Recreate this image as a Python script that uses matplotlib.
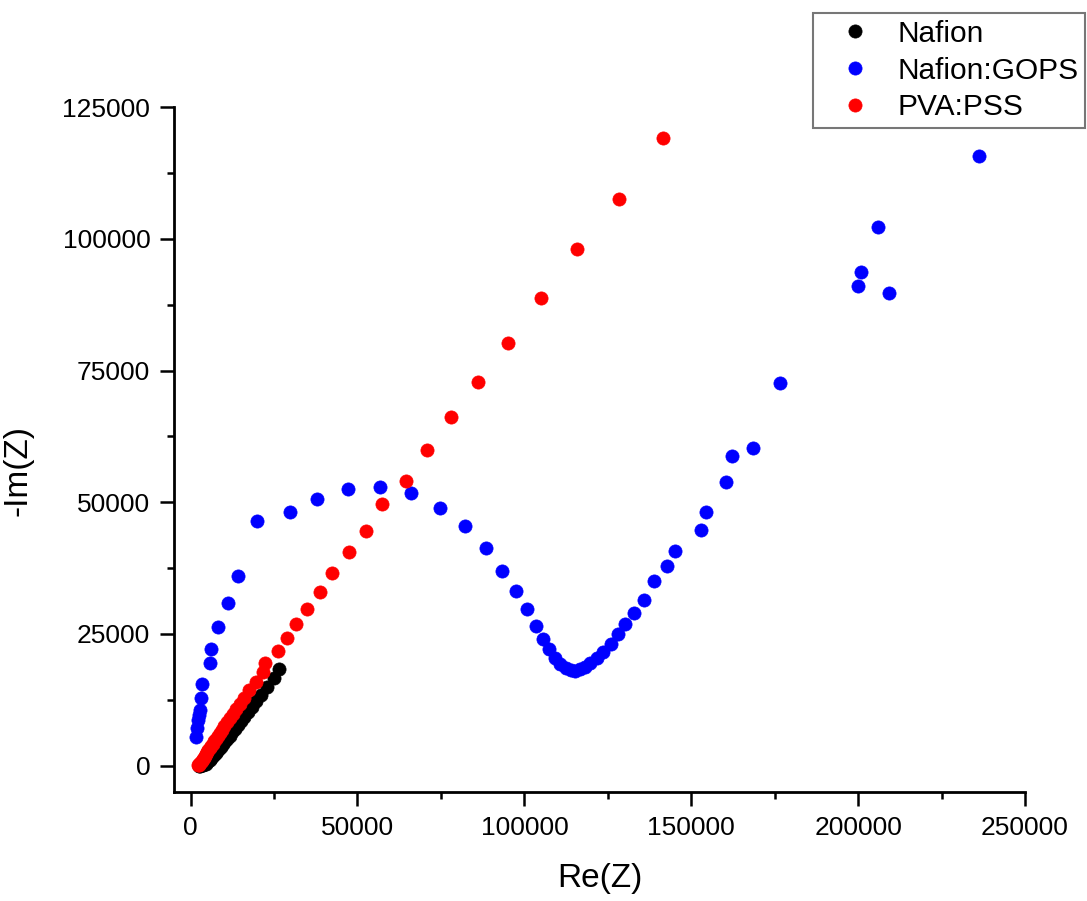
import numpy as np
import matplotlib
matplotlib.use("Agg")
import matplotlib.pyplot as plt
from matplotlib.ticker import MultipleLocator

plt.rcParams['font.family'] = ['Liberation Sans', 'DejaVu Sans']

# Nafion (black) - Re(Z), -Im(Z)
naf_re = [26500, 24900, 22800, 21100, 19700, 18400, 17200, 16100, 15100, 14200,
          13300, 12500, 11700, 11000, 10300, 9700, 9100, 8500, 8000, 7500,
          7000, 6500, 6100, 5700, 5300, 4900, 4500, 4100, 3700, 3300, 2900, 2600]
naf_im = [18300, 16600, 15000, 13500, 12300, 11200, 10200, 9300, 8500, 7700,
          7000, 6300, 5700, 5100, 4600, 4100, 3600, 3200, 2800, 2400,
          2000, 1700, 1400, 1100, 850, 600, 400, 250, 130, 60, 20, 10]

# Nafion:GOPS (blue)
gops_re = [1700, 2000, 2200, 2500, 2700, 3200, 3500, 5800, 6200, 8300,
           11100, 14300, 20000, 29800, 38000, 47200, 56700, 66100, 74800, 82200,
           88600, 93300, 97400, 100700, 103400, 105600, 107400, 109100, 110700, 112400,
           114100, 115200, 116700, 118200, 119700, 121700, 123500, 126000, 128000, 130100,
           132700, 135900, 138700, 142600, 145000, 152800, 154500, 160500, 162200, 168400,
           176500, 200100, 200900, 209200, 206000, 236200]
gops_im = [5500, 7100, 8600, 9600, 10600, 12800, 15500, 19400, 22200, 26400,
           30800, 36000, 46400, 48100, 50700, 52600, 52900, 51700, 49000, 45500,
           41400, 37000, 33100, 29700, 26600, 24000, 22100, 20500, 19300, 18500,
           18100, 17900, 18300, 18700, 19400, 20500, 21500, 23100, 25000, 26900,
           28900, 31500, 35000, 37900, 40700, 44800, 48100, 53800, 58700, 60300,
           72700, 91100, 93700, 89700, 102300, 115800]

# PVA:PSS (red)
pva_re = [2300, 2400, 2600, 2800, 3000, 3300, 3600, 3900, 4200, 4500,
          4900, 5300, 5700, 6100, 6600, 7100, 7600, 8200, 8800, 9400,
          10100, 10900, 11700, 12600, 13600, 14700, 16000, 17600, 19600, 21600,
          22300, 26100, 28800, 31500, 34800, 38900, 42400, 47500, 52500, 57300,
          64500, 70700, 78000, 86200, 95200, 105100, 115900, 128200, 141400]
pva_im = [80, 150, 300, 500, 700, 900, 1200, 1500, 1800, 2200,
          2500, 2900, 3300, 3700, 4100, 4600, 5100, 5600, 6200, 6800,
          7500, 8200, 9000, 9800, 10700, 11700, 12900, 14300, 15900, 17800,
          19400, 21800, 24300, 26900, 29800, 32900, 36500, 40600, 44600, 49700,
          54100, 59900, 66200, 72900, 80300, 88800, 98000, 107600, 119200]

fig = plt.figure(figsize=(10.87, 9.01), dpi=100)
ax = fig.add_axes([0.160, 0.121, 0.783, 0.760])

ms = 9.5
ax.plot(naf_re, naf_im, 'o', color='black', ms=ms, mew=0.5, label='Nafion')
ax.plot(gops_re, gops_im, 'o', color='#0000ff', ms=ms, mew=0.5, label='Nafion:GOPS')
ax.plot(pva_re, pva_im, 'o', color='#ff0000', ms=ms, mew=0.5, label='PVA:PSS')

ax.set_xlim(-5000, 250000)
ax.set_ylim(-5000, 125000)
ax.xaxis.set_minor_locator(MultipleLocator(25000))
ax.yaxis.set_minor_locator(MultipleLocator(12500))
ax.set_xticks([0, 50000, 100000, 150000, 200000, 250000])
ax.set_yticks([0, 25000, 50000, 75000, 100000, 125000])

for s in ['top', 'right']:
    ax.spines[s].set_visible(False)
for s in ['left', 'bottom']:
    ax.spines[s].set_linewidth(2.0)

ax.tick_params(which='major', direction='out', length=10, width=1.8, labelsize=19, pad=7)
ax.tick_params(which='minor', direction='out', length=5, width=1.8)

ax.set_xlabel('Re(Z)', fontsize=24)
ax.set_ylabel('-Im(Z)', fontsize=24)
ax.xaxis.set_label_coords(0.5, -0.103)
ax.yaxis.set_label_coords(-0.165, 0.47)

leg = fig.legend(loc='upper right', bbox_to_anchor=(1085/1087, (901-13)/901),
                 fontsize=21.5, frameon=True, fancybox=False, borderaxespad=0,
                 borderpad=0.23, handlelength=2.35, handletextpad=0.24,
                 labelspacing=0.29, numpoints=1)
leg.get_frame().set_edgecolor('#555555')
leg.get_frame().set_linewidth(1.5)

fig.savefig('out.png', dpi=100)
